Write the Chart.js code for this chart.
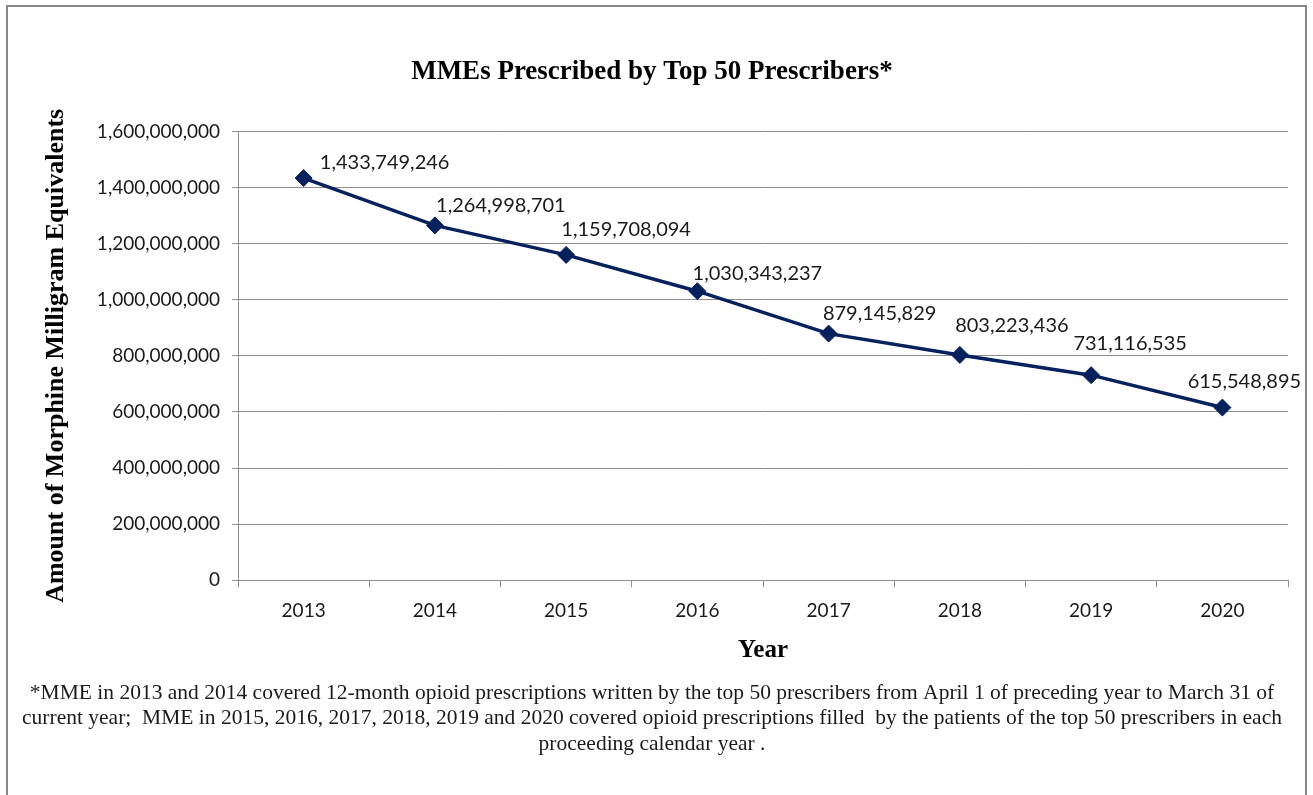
<!DOCTYPE html>
<html>
<head>
<meta charset="utf-8">
<script src="https://cdn.jsdelivr.net/npm/chart.js@4.4.0/dist/chart.umd.min.js"></script>
<style>
  html, body { margin: 0; padding: 0; background: #fff; }
  #wrap { width: 1313px; height: 795px; }
  canvas { display: block; }
</style>
</head>
<body>
<div id="wrap"><canvas id="chart" width="1313" height="795"></canvas></div>
<script>
// data
const years = ['2013', '2014', '2015', '2016', '2017', '2018', '2019', '2020'];
const mmeValues = [1433749246, 1264998701, 1159708094, 1030343237, 879145829, 803223436, 731116535, 615548895];
const yMin = 0;
const yMax = 1600000000;
const yStep = 200000000;

const chartTitle = 'MMEs Prescribed by Top 50 Prescribers*';
const yAxisTitle = 'Amount of Morphine Milligram Equivalents';
const xAxisTitle = 'Year';
const footnote = [
    '*MME in 2013 and 2014 covered 12-month opioid prescriptions written by the top 50 prescribers from April 1 of preceding year to March 31 of',
    'current year;  MME in 2015, 2016, 2017, 2018, 2019 and 2020 covered opioid prescriptions filled  by the patients of the top 50 prescribers in each',
    'proceeding calendar year .',
];

// where each value label sits relative to its point (dx, dy)
const labelOffsets = [[81, -15], [66, -20], [60, -25], [60, -18], [51, -20], [52, -29], [39, -32], [22, -26]];

const LINE_COLOR = '#06215e';
const GRID_COLOR = '#8e8e8e';
const SERIF = '"Liberation Serif", "DejaVu Serif", serif';
const SANS = 'Lato, "Open Sans", sans-serif';

const frame = {
    id: 'frame',
    beforeDraw(chart) {
        const { ctx } = chart;
        ctx.save();
        ctx.fillStyle = '#fff';
        ctx.fillRect(0, 0, chart.width, chart.height);
        ctx.strokeStyle = '#878787';
        ctx.lineWidth = 2;
        ctx.strokeRect(7, 6, 1299, 820);
        ctx.restore();
    },
};

const valueLabels = {
    id: 'valueLabels',
    afterDatasetsDraw(chart) {
        const { ctx } = chart;
        const meta = chart.getDatasetMeta(0);
        ctx.save();
        ctx.font = `20px ${SANS}`;
        ctx.fillStyle = '#1a1a1a';
        ctx.textAlign = 'center';
        ctx.textBaseline = 'middle';
        meta.data.forEach((pt, i) => {
            const [dx, dy] = labelOffsets[i];
            ctx.fillText(mmeValues[i].toLocaleString('en-US'), pt.x + dx, pt.y + dy);
        });
        ctx.restore();
    },
};

new Chart(document.getElementById('chart'), {
    type: 'line',
    data: {
        labels: years,
        datasets: [{
            data: mmeValues,
            borderColor: LINE_COLOR,
            backgroundColor: LINE_COLOR,
            borderWidth: 3.5,
            pointStyle: 'rectRot',
            pointRadius: 8.5,
            pointBorderWidth: 1,
            tension: 0,
        }],
    },
    options: {
        responsive: false,
        animation: false,
        layout: { padding: { top: 10, left: 16, right: 25, bottom: 10 } },
        plugins: {
            legend: { display: false },
            tooltip: { enabled: false },
            title: {
                display: true,
                text: chartTitle,
                color: '#000',
                font: { family: SERIF, size: 27, weight: 'bold', lineHeight: 1.2 },
                padding: { top: 46, bottom: 43 },
            },
            subtitle: {
                display: true,
                position: 'bottom',
                text: footnote,
                color: '#1a1a1a',
                font: { family: SERIF, size: 21.5, lineHeight: 1.19 },
                padding: { top: 15, bottom: 28 },
            },
        },
        scales: {
            x: {
                offset: true,
                grid: { offset: true, drawOnChartArea: false, tickLength: 7, color: GRID_COLOR },
                border: { display: true, color: GRID_COLOR },
                ticks: { color: '#1a1a1a', font: { family: SANS, size: 19 }, padding: 12 },
                title: {
                    display: true,
                    text: xAxisTitle,
                    color: '#000',
                    font: { family: SERIF, size: 25, weight: 'bold', lineHeight: 1.2 },
                    padding: { top: 4, bottom: 0 },
                },
                afterFit(scale) { scale.height = 85; },
            },
            y: {
                min: yMin,
                max: yMax,
                grid: { color: GRID_COLOR, tickLength: 6 },
                border: { display: true, color: GRID_COLOR },
                ticks: {
                    stepSize: yStep,
                    color: '#1a1a1a',
                    font: { family: SANS, size: 19 },
                    padding: 12,
                    callback: (v) => v.toLocaleString('en-US'),
                },
                title: {
                    display: true,
                    text: yAxisTitle,
                    color: '#000',
                    font: { family: SERIF, size: 26, weight: 'bold', lineHeight: 1.2 },
                    padding: { top: 25, bottom: 4 },
                },
                afterFit(scale) { scale.width = 222; },
            },
        },
    },
    plugins: [frame, valueLabels],
});
</script>
</body>
</html>
